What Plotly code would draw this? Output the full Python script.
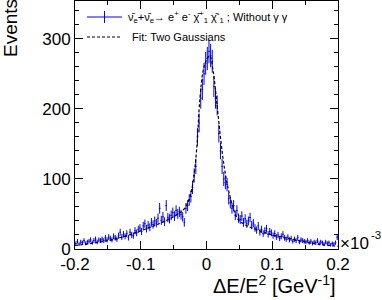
import numpy as np
import plotly.graph_objects as go

# Histogram: bin edges from -0.2 to 0.2 (units of 1e-3 GeV^-1), bin width 0.0025
bin_lo = -0.2
bin_width = 0.0025
counts = [
    8, 11, 7, 10, 9, 12, 8, 10,
    11, 13, 9, 12, 14, 10, 13, 12,
    14, 12, 16, 13, 17, 15, 13, 18, 16, 14, 19, 24,
    17, 21, 18, 22, 16, 24, 20, 19, 26, 23,
    28, 30, 25, 33, 36, 29, 34, 31, 38, 35,
    40, 37, 44, 58, 41, 46, 39, 62, 45, 43,
    48, 52, 47, 55, 50, 53, 49, 46,
    38, 58, 62, 70, 75, 88, 105, 118, 160, 180,
    215, 228, 250, 265, 272, 282, 276, 268, 232, 215,
    205, 165, 140, 118, 100, 95, 92, 72, 66, 58,
    62, 48, 55, 44,
    42, 47, 38, 43, 36, 40, 45, 34, 37,
    30, 27, 33, 24, 28, 22, 26, 29, 21, 25, 23,
    19, 22, 17, 20, 15, 18, 21, 16, 14, 17,
    13, 15, 11, 14, 12, 16, 10, 13, 12, 11,
    10, 12, 9, 11, 8, 10, 9, 12, 8, 10,
    9, 7, 10, 8, 9, 6, 8, 7, 9, 17,
]

# Fit curve (two Gaussians)
fit_x = [-0.2, -0.175, -0.15, -0.125, -0.1, -0.075, -0.05, -0.04, -0.035, -0.03,
         -0.025, -0.02, -0.015, -0.01, -0.005, 0.0, 0.005, 0.01, 0.015, 0.02,
         0.025, 0.03, 0.035, 0.04, 0.045, 0.05, 0.06, 0.075, 0.1, 0.125,
         0.15, 0.175, 0.2]
fit_y = [5, 8, 12, 18, 26, 35, 46, 52, 56, 63,
         75, 98, 142, 215, 255, 270, 276, 255, 215, 170,
         130, 100, 78, 60, 47, 40, 34, 28, 20, 15,
         10, 6, 4]

x_ticks = [-0.2, -0.1, 0, 0.1, 0.2]
x_tick_labels = ["-0.2", "-0.1", "0", "0.1", "0.2"]
y_ticks = [0, 100, 200, 300]
y_tick_labels = ["0", "100", "200", "300"]

legend_data = ("ν̄<sub>e</sub>+ν̄<sub>e</sub>→ e<sup>+</sup> e<sup>-</sup> "
               "χ̄<sup>+</sup><sub>1</sub> χ̄<sup>-</sup><sub>1</sub> ; Without γ γ")
legend_fit = "Fit: Two Gaussians"

counts_arr = np.array(counts, dtype=float)
centers = bin_lo + bin_width * (np.arange(len(counts)) + 0.5)
errors = np.sqrt(counts_arr)

BLUE = "#0000ff"
FONT = "Liberation Sans, Arial, sans-serif"

# plot-area geometry in pixels (for placing legend / labels in paper coords)
L, R, T, B = 75, 338, 1, 249


def px(xp):
    return (xp - L) / (R - L)


def py(yp):
    return (B - yp) / (B - T)


fig = go.Figure()

fig.add_trace(go.Scatter(
    x=centers, y=counts_arr, mode="markers",
    marker=dict(size=1, color=BLUE, opacity=0),
    error_y=dict(type="data", array=errors, visible=True, color=BLUE, thickness=1, width=0),
    error_x=dict(type="constant", value=bin_width / 2, visible=True, color=BLUE, thickness=1, width=0),
    showlegend=False, hoverinfo="skip", name=legend_data,
))

fig.add_trace(go.Scatter(
    x=fit_x, y=fit_y, mode="lines", name=legend_fit,
    line=dict(color="black", width=1.2, dash="3px,2px", shape="spline"),
    showlegend=False,
))

fig.update_layout(
    width=382, height=300,
    margin=dict(l=L, r=382 - R, t=T, b=300 - B),
    paper_bgcolor="white", plot_bgcolor="white",
    font=dict(family=FONT, color="black", size=17),
    showlegend=False,
    xaxis=dict(range=[-0.2, 0.2], showgrid=False, zeroline=False,
               showline=True, linecolor="black", linewidth=1, mirror="ticks",
               ticks="inside", ticklen=8, tickcolor="black",
               tickvals=x_ticks, ticktext=x_tick_labels,
               tickfont=dict(size=17),
               minor=dict(dtick=0.05, tick0=0, ticks="inside", ticklen=4, tickcolor="black")),
    yaxis=dict(range=[0, 354], showgrid=False, zeroline=False,
               showline=True, linecolor="black", linewidth=1, mirror="ticks",
               ticks="inside", ticklen=8, tickcolor="black",
               tickvals=y_ticks, ticktext=y_tick_labels,
               tickfont=dict(size=17),
               minor=dict(dtick=20, tick0=0, ticks="inside", ticklen=4, tickcolor="black")),
)

# manual legend (ROOT TLegend style)
fig.add_shape(type="line", xref="paper", yref="paper",
              x0=px(87), x1=px(122), y0=py(17), y1=py(17),
              line=dict(color=BLUE, width=1))
fig.add_shape(type="line", xref="paper", yref="paper",
              x0=px(104.5), x1=px(104.5), y0=py(11), y1=py(23),
              line=dict(color=BLUE, width=1))
fig.add_shape(type="line", xref="paper", yref="paper",
              x0=px(87), x1=px(122), y0=py(37), y1=py(37),
              line=dict(color="black", width=1.2, dash="3px,2px"))
fig.add_annotation(
    text=legend_data, xref="paper", yref="paper",
    x=px(126), y=py(17), xanchor="left", yanchor="middle", showarrow=False,
    font=dict(size=11, family=FONT),
)
fig.add_annotation(
    text=legend_fit, xref="paper", yref="paper",
    x=px(130), y=py(37), xanchor="left", yanchor="middle", showarrow=False,
    font=dict(size=11, family=FONT),
)

fig.add_annotation(
    text="ΔE/E<sup>2</sup> [GeV<sup>-1</sup>]", xref="paper", yref="paper",
    x=1.0, y=py(284), xanchor="right", yanchor="middle", showarrow=False,
    font=dict(size=20, family=FONT),
)
fig.add_annotation(
    text="Events", xref="paper", yref="paper",
    x=px(10), y=py(28), xanchor="center", yanchor="middle",
    textangle=-90, showarrow=False, font=dict(size=19, family=FONT),
)
fig.add_annotation(
    text="×10", xref="paper", yref="paper",
    x=px(338), y=py(243), xanchor="left", yanchor="middle", showarrow=False,
    font=dict(size=17, family=FONT),
)
fig.add_annotation(
    text="-3", xref="paper", yref="paper",
    x=px(369), y=py(235), xanchor="left", yanchor="middle", showarrow=False,
    font=dict(size=11.5, family=FONT),
)

fig.write_html("out.html", config={"displayModeBar": False},
               post_script="document.body.style.margin='0px';")
